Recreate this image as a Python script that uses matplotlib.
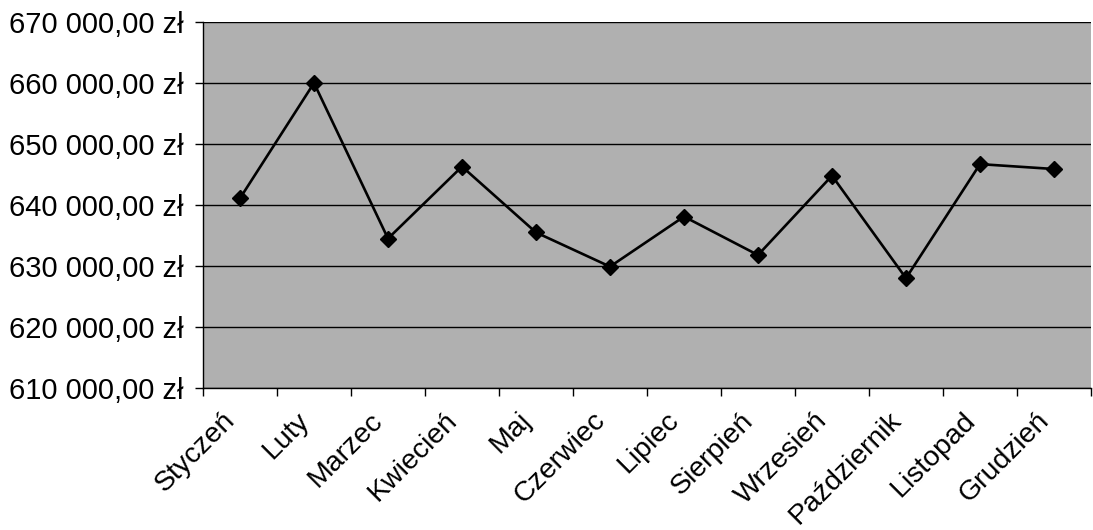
import matplotlib
matplotlib.use("Agg")
import matplotlib.pyplot as plt
from matplotlib.ticker import FixedLocator, FuncFormatter
from matplotlib.transforms import ScaledTranslation
import numpy as np

months = ["Styczeń", "Luty", "Marzec", "Kwiecień", "Maj", "Czerwiec", "Lipiec",
          "Sierpień", "Wrzesień", "Październik", "Listopad", "Grudzień"]
values = [641100, 660000, 634500, 646300, 635500, 629900, 638100,
          631800, 644800, 628000, 646700, 645900]
y_ticks = [610000, 620000, 630000, 640000, 650000, 660000, 670000]

plt.rcParams['font.family'] = ['Liberation Sans', 'DejaVu Sans']

fig = plt.figure(figsize=(10.93, 5.30), dpi=100)
ax = fig.add_axes([203/1093, 1-388/530, (1091-203)/1093, (388-22)/530])
ax.set_facecolor('#b0b0b0')

x = np.arange(len(months))
ax.plot(x, values, color='black', lw=1.9, marker='D', markersize=8,
        markerfacecolor='black', markeredgecolor='black', zorder=3)

ax.set_xlim(-0.5, len(months) - 0.5)
ax.set_ylim(y_ticks[0], y_ticks[-1])
ax.yaxis.set_major_locator(FixedLocator(y_ticks))

def fmt(v, pos):
    s = f"{int(round(v)):,}".replace(",", " ")
    return s + ",00 zł"
ax.yaxis.set_major_formatter(FuncFormatter(fmt))
ax.grid(axis='y', color='black', lw=1.0)
ax.set_axisbelow(True)

ax.set_xticks(np.arange(-0.5, len(months), 1.0))
ax.set_xticklabels([])
ax.set_xticks(x, minor=True)
ax.set_xticklabels(months, minor=True, rotation=45, ha='right',
                   rotation_mode='anchor', fontsize=20.5)
ax.tick_params(axis='x', which='minor', length=0, pad=14)
ax.tick_params(axis='x', which='major', length=6, width=1, direction='out')
ax.tick_params(axis='y', length=6, width=1, direction='out', labelsize=21, pad=8)

offset = ScaledTranslation(-18/100, 0, fig.dpi_scale_trans)
for lbl in ax.get_xticklabels(minor=True):
    lbl.set_transform(lbl.get_transform() + offset)

for s in ['top', 'right']:
    ax.spines[s].set_visible(False)
ax.spines['left'].set_linewidth(1)
ax.spines['bottom'].set_linewidth(1)

fig.savefig('out.png', dpi=100)
